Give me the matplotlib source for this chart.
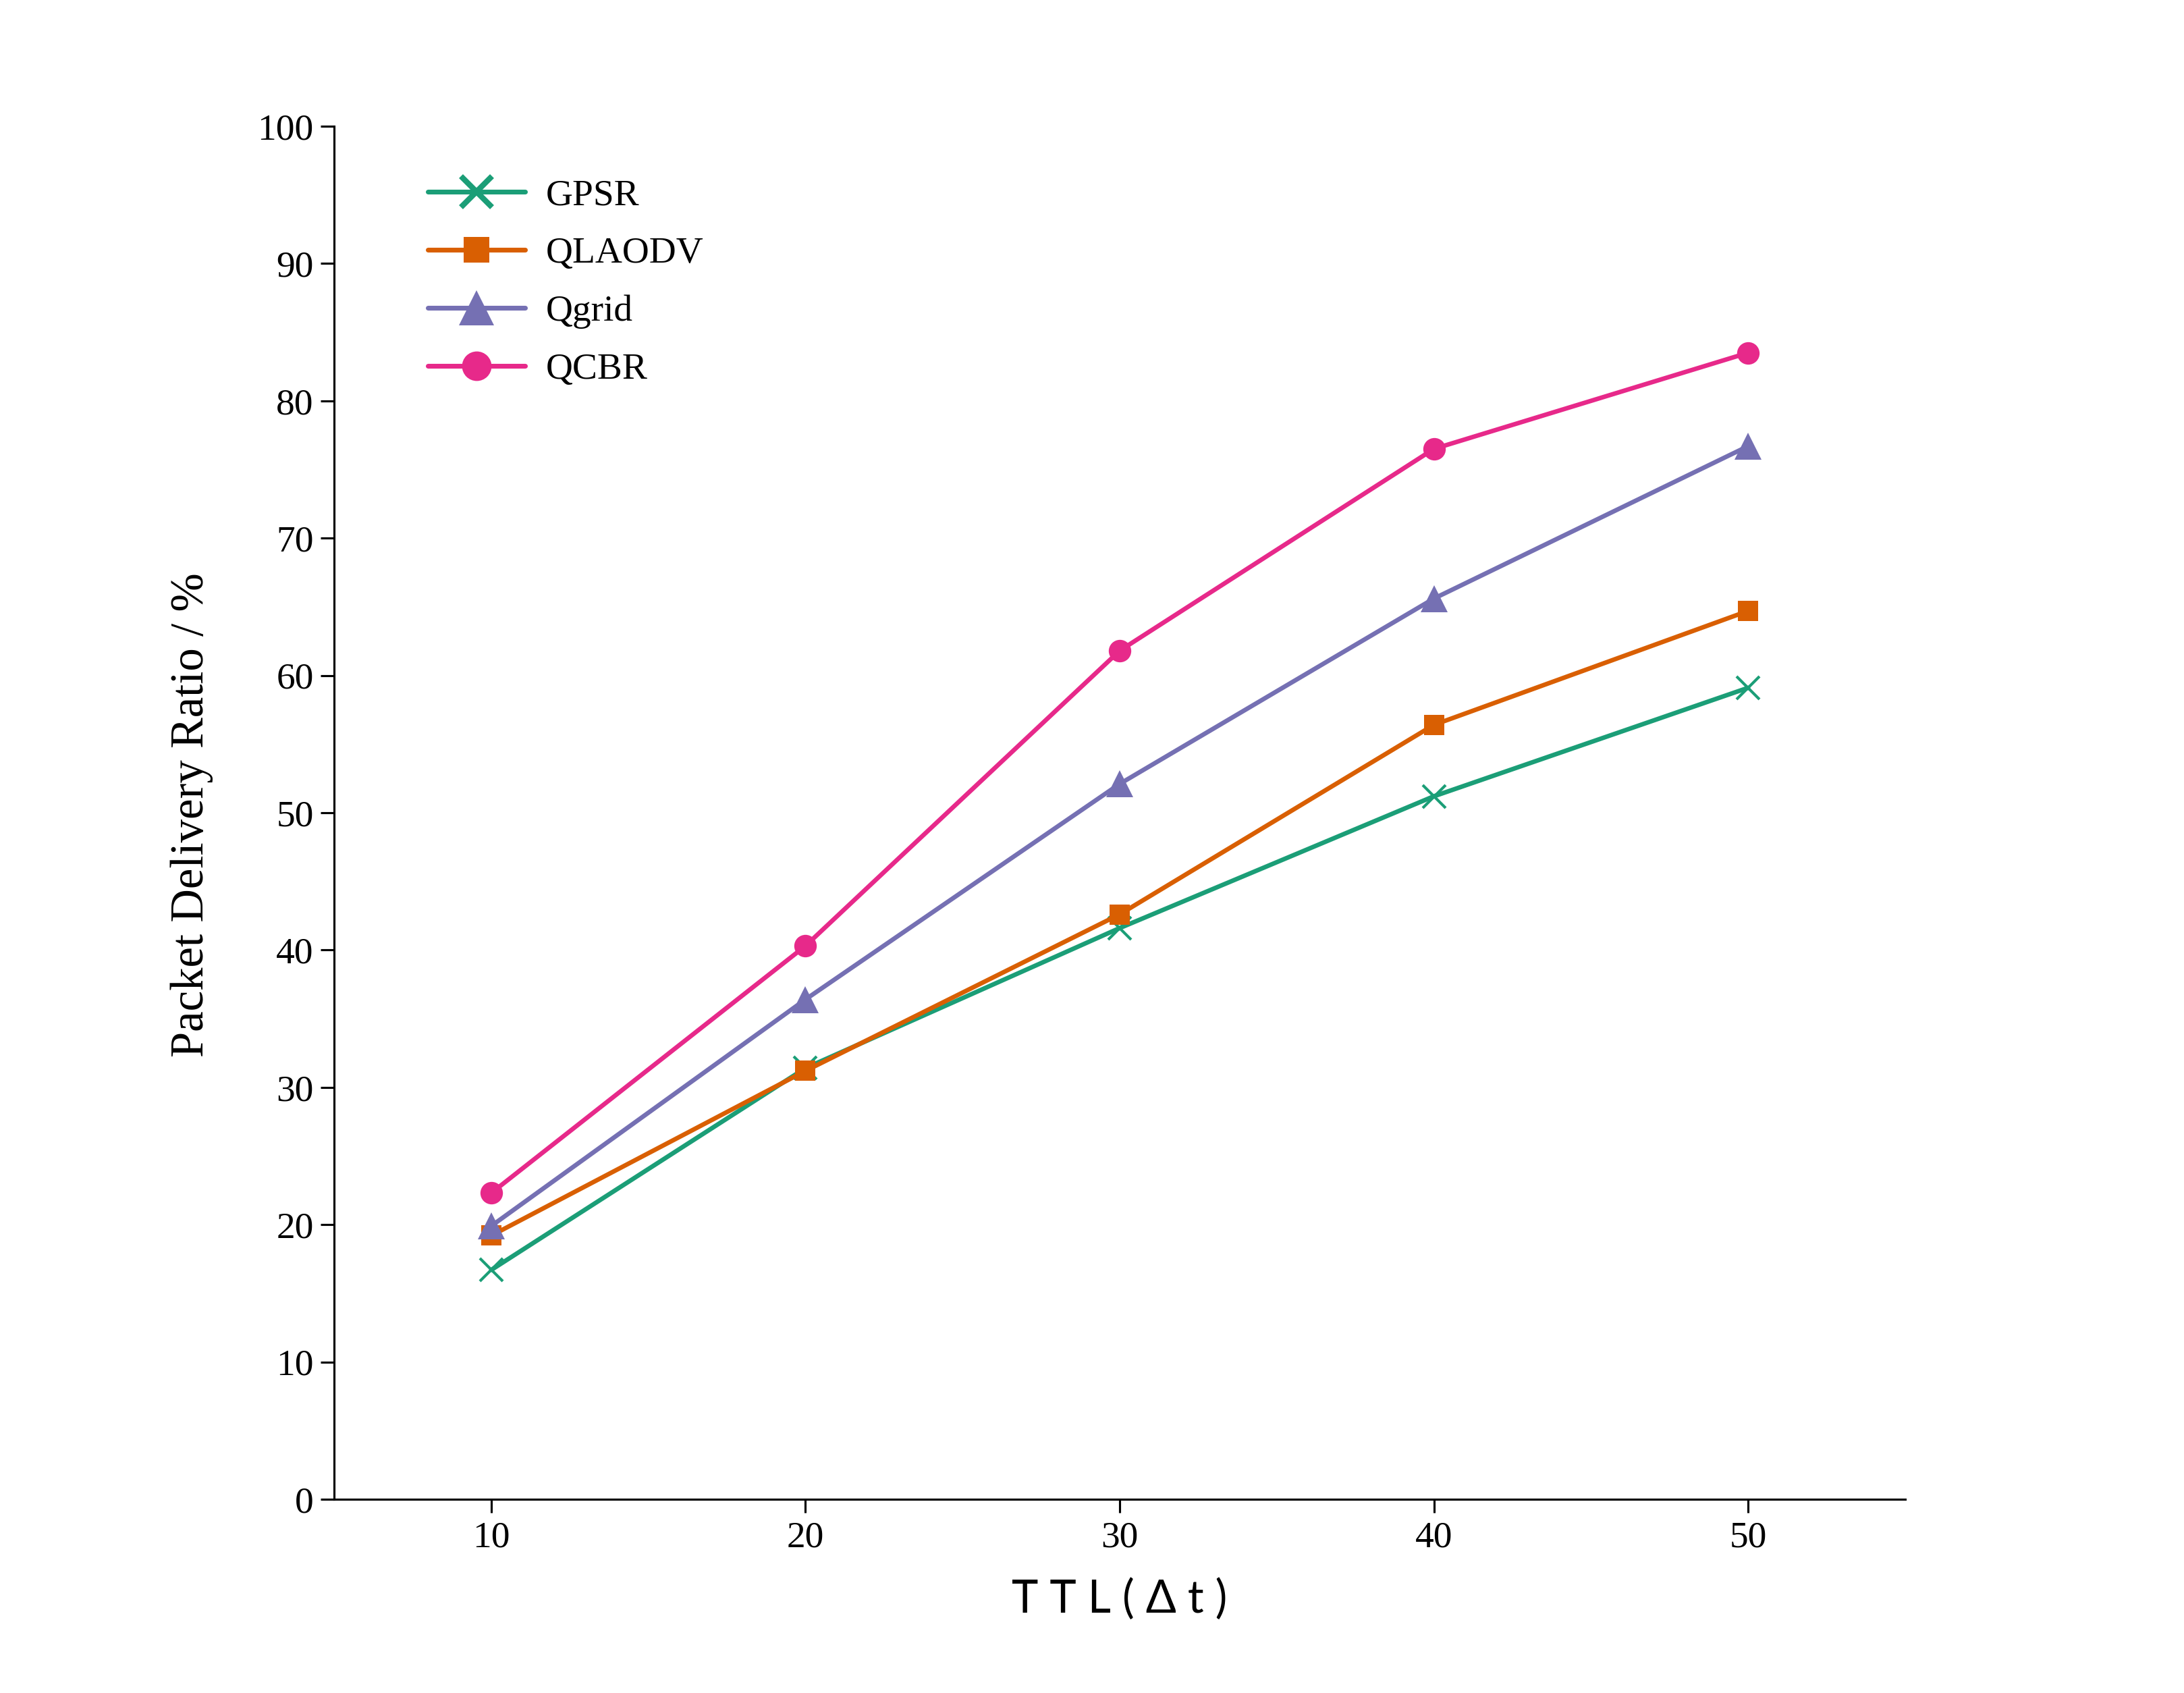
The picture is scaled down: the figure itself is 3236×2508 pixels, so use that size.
import matplotlib
matplotlib.use("Agg")
import matplotlib.pyplot as plt
from matplotlib.lines import Line2D

ttl = [10, 20, 30, 40, 50]
series_names = ["GPSR", "QLAODV", "Qgrid", "QCBR"]
gpsr = [16.7, 31.4, 41.6, 51.2, 59.1]
qlaodv = [19.2, 31.2, 42.6, 56.4, 64.7]
qgrid = [19.9, 36.4, 52.1, 65.6, 76.7]
qcbr = [22.3, 40.3, 61.8, 76.5, 83.5]
yticks = [0, 10, 20, 30, 40, 50, 60, 70, 80, 90, 100]

colors = ["#1b9e77", "#d95f02", "#7570b3", "#e7298a"]
markers = ["x", "s", "^", "o"]
msizes = [8, 7, 9.5, 8]
lmsizes = [11, 9, 12.5, 10.5]

plt.rcParams['font.family'] = ['Liberation Serif', 'DejaVu Serif']
plt.rcParams['mathtext.fontset'] = 'stix'

W, H, DPI = 3237, 2508, 300
fig = plt.figure(figsize=(W / DPI, H / DPI), dpi=DPI)
ax = fig.add_axes([495 / W, 1 - 2221 / H, (2823 - 495) / W, (2221 - 187) / H])

data = [gpsr, qlaodv, qgrid, qcbr]
handles = []
for name, vals, c, m, ms, lms in zip(series_names, data, colors, markers, msizes, lmsizes):
    ax.plot(ttl, vals, color=c, lw=1.6, marker=m, ms=ms, mew=1.0 if m == "x" else 0,
            mfc=c, mec=c, zorder=3, solid_capstyle='round')
    handles.append(Line2D([], [], color=c, lw=1.7, marker=m, ms=lms,
                          mew=2.0 if m == "x" else 0, mfc=c, mec=c,
                          solid_capstyle='round'))

ax.set_xlim(5, 55)
ax.set_ylim(0, 100)
ax.set_xticks(ttl)
ax.set_yticks(yticks)
ax.spines['top'].set_visible(False)
ax.spines['right'].set_visible(False)
for s in ['left', 'bottom']:
    ax.spines[s].set_linewidth(0.75)
ax.tick_params(axis='both', direction='out', length=4.8, width=0.75, labelsize=13.3,
               colors='black')
ax.tick_params(axis='y', pad=2.5)
ax.tick_params(axis='x', pad=3.0)

leg = fig.legend(handles, series_names, loc='upper left',
                 bbox_to_anchor=(634 / W, 1 - 265 / H), bbox_transform=fig.transFigure,
                 frameon=False, fontsize=13.3, handlelength=2.6, handletextpad=0.56,
                 labelspacing=0.63, borderpad=0, borderaxespad=0)

fig.text(284 / W, 1 - 1207 / H, "Packet Delivery Ratio / %", rotation=90,
         ha='center', va='center', fontsize=16.5)
fig.text(1659 / W, 1 - 2370 / H, "T T L ( \u0394 t )", ha='center', va='center',
         fontsize=16, family=['Lato', 'DejaVu Sans'], fontweight='normal')

fig.savefig("out.png", dpi=DPI, facecolor='white')
